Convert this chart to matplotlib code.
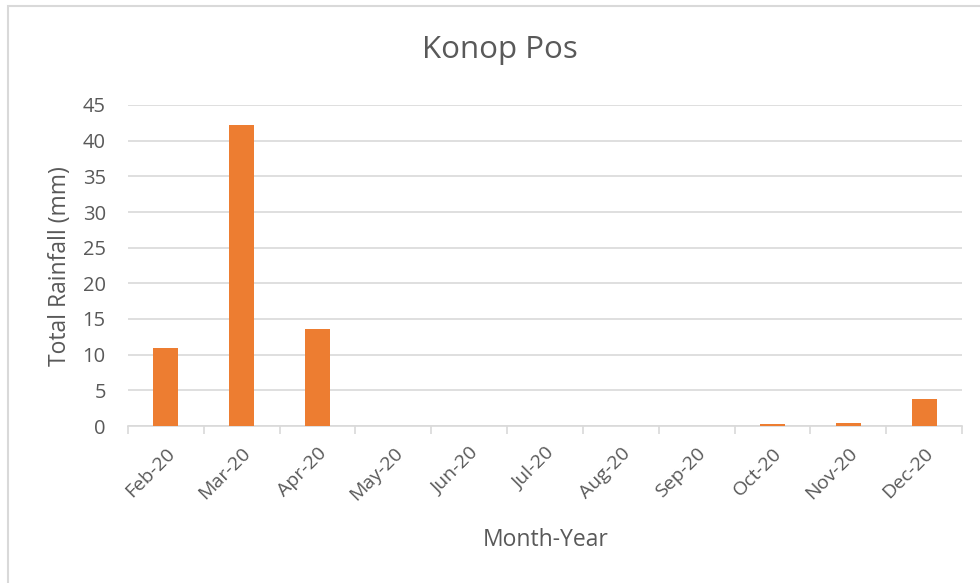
import matplotlib.pyplot as plt
import numpy as np
from matplotlib.patches import Rectangle

months = ['Feb-20', 'Mar-20', 'Apr-20', 'May-20', 'Jun-20', 'Jul-20',
          'Aug-20', 'Sep-20', 'Oct-20', 'Nov-20', 'Dec-20']
rainfall = [11.0, 42.2, 13.6, 0, 0, 0, 0, 0, 0.3, 0.4, 3.8]

plt.rcParams['font.family'] = ['Open Sans', 'DejaVu Sans']
text_col = '#595959'
grid_col = '#d9d9d9'

fig = plt.figure(figsize=(9.8, 5.83), dpi=100)
ax = fig.add_axes([128/980, 1 - 426/583, (962 - 128)/980, (426 - 105)/583])

# outer chart border (partly off the image)
fig.patches.append(Rectangle((8/980, -0.05), 1.1, 1 - 6/583 + 0.05,
                             transform=fig.transFigure, fill=False,
                             edgecolor=grid_col, linewidth=1.5))

x = np.arange(len(months))
ax.bar(x, rainfall, width=0.33, color='#ed7d31', zorder=3)

ax.set_xlim(-0.5, len(months) - 0.5)
ax.set_ylim(0, 45)
ax.set_yticks(range(0, 50, 5))
ax.grid(axis='y', color=grid_col, linewidth=1.2, zorder=0)

for s in ['top', 'right', 'left']:
    ax.spines[s].set_visible(False)
ax.spines['bottom'].set_color(grid_col)
ax.spines['bottom'].set_linewidth(1.2)

# category ticks sit on boundaries, labels at centers
ax.set_xticks(np.arange(-0.5, len(months)), minor=False)
ax.set_xticklabels([])
ax.tick_params(axis='x', which='major', length=6, color=grid_col, width=1.2)
ax.set_xticks(x, minor=True)
ax.set_xticklabels(months, minor=True, rotation=45, ha='right',
                   rotation_mode='anchor', color=text_col, fontsize=14)
ax.tick_params(axis='x', which='minor', length=0, pad=13)
ax.tick_params(axis='y', length=0, labelcolor=text_col, labelsize=14.5, pad=16)

fig.text(546/980, 1 - 540/583, 'Month-Year', ha='center', va='center',
         color=text_col, fontsize=16.5)
fig.text(60/980, 1 - 266/583, 'Total Rainfall (mm)', ha='center', va='center',
         rotation=90, color=text_col, fontsize=16.5)
fig.text(500/980, 1 - 50/583, 'Konop Pos', ha='center', va='center',
         color=text_col, fontsize=22.5)

fig.savefig('out.png', dpi=100)
